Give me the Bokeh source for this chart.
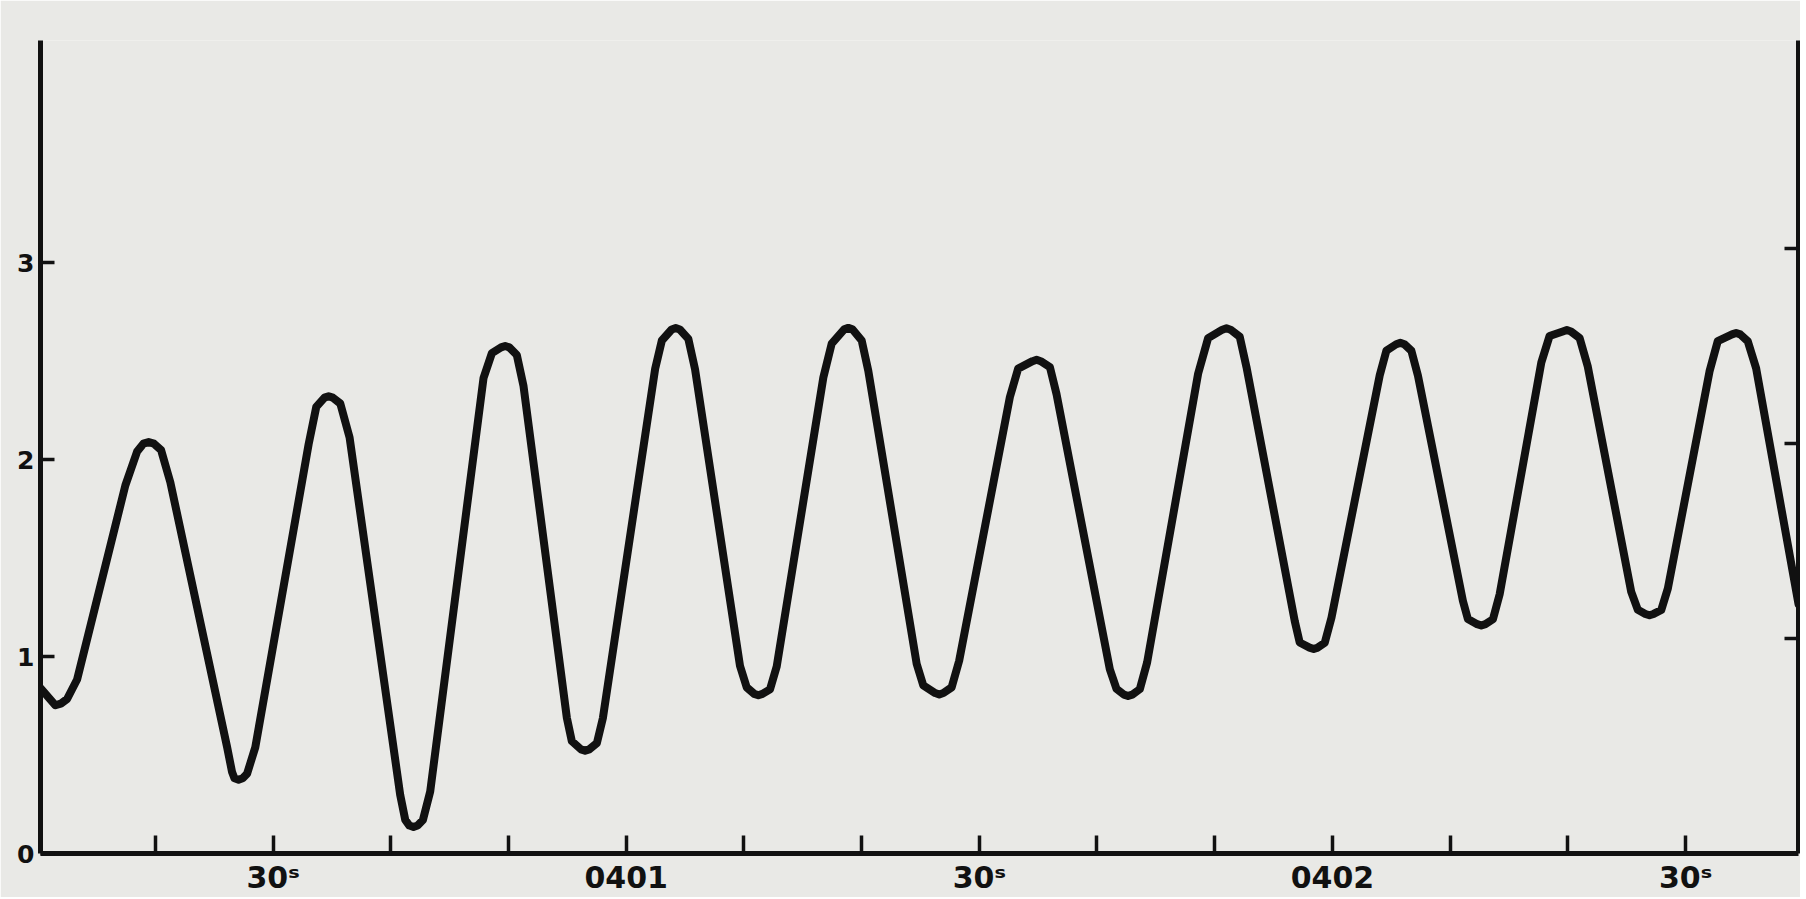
from bokeh.plotting import figure
from bokeh.models import LinearAxis, FixedTicker, Range1d, ColumnDataSource
from bokeh.embed import file_html
from bokeh.resources import INLINE

# time in seconds after 04:00:00
time_s = [10.24, 11.51, 11.96, 12.50, 13.35,
          17.45, 18.45, 18.98, 19.43, 19.88, 20.48, 21.27,
          26.09, 26.51, 26.72, 27.07, 27.42, 27.79, 28.49,
          33.02, 33.67, 34.37, 34.72, 35.07, 35.71, 36.50,
          40.80, 41.23, 41.58, 41.93, 42.28, 42.73, 43.35,
          47.88, 48.59, 49.37, 49.72, 50.07, 50.71, 51.27,
          54.96, 55.38, 56.16, 56.51, 56.86, 57.51, 58.02,
          62.46, 63.03, 63.86, 64.21, 64.56, 65.28, 65.85,
          69.67, 70.24, 70.88, 71.23, 71.58, 72.22, 72.79,
          76.75, 77.46, 78.52, 78.87, 79.22, 80.01, 80.57,
          84.68, 85.24, 86.25, 86.60, 86.95, 87.65, 88.29,
          92.60, 93.30, 94.52, 94.87, 95.22, 96.00, 96.56,
          101.09, 101.66, 102.29, 102.64, 102.99, 103.64, 104.26,
          108.59, 109.44, 110.65, 111.00, 111.35, 112.13, 112.70,
          116.80, 117.22, 118.06, 118.41, 118.76, 119.35, 119.92,
          124.02, 124.59, 125.42, 125.77, 126.12, 126.71, 127.27,
          131.09, 131.51, 132.30, 132.65, 133.00, 133.64, 134.21,
          137.75, 138.45, 139.57, 139.92, 140.27, 141.00, 141.70,
          145.39, 145.95, 146.59, 146.94, 147.29, 147.94, 148.50,
          152.04, 152.74, 153.95, 154.30, 154.65, 155.29, 156.00,
          159.60]
level = [0.840, 0.753, 0.761, 0.785, 0.884,
         1.870, 2.042, 2.082, 2.090, 2.082, 2.050, 1.886,
         0.542, 0.415, 0.382, 0.375, 0.382, 0.405, 0.540,
         2.079, 2.269, 2.316, 2.323, 2.316, 2.286, 2.113,
         0.298, 0.171, 0.142, 0.135, 0.142, 0.170, 0.315,
         2.416, 2.542, 2.571, 2.578, 2.571, 2.532, 2.377,
         0.689, 0.571, 0.529, 0.522, 0.529, 0.561, 0.688,
         2.462, 2.606, 2.662, 2.669, 2.662, 2.614, 2.460,
         0.953, 0.844, 0.811, 0.804, 0.811, 0.834, 0.951,
         2.418, 2.590, 2.663, 2.670, 2.663, 2.606, 2.452,
         0.963, 0.854, 0.815, 0.808, 0.815, 0.844, 0.979,
         2.319, 2.463, 2.501, 2.508, 2.501, 2.471, 2.334,
         0.936, 0.836, 0.807, 0.800, 0.807, 0.835, 0.971,
         2.437, 2.618, 2.661, 2.668, 2.661, 2.625, 2.471,
         1.181, 1.072, 1.046, 1.039, 1.046, 1.071, 1.198,
         2.429, 2.555, 2.587, 2.594, 2.587, 2.554, 2.427,
         1.283, 1.191, 1.165, 1.158, 1.165, 1.190, 1.317,
         2.494, 2.629, 2.652, 2.659, 2.652, 2.619, 2.473,
         1.329, 1.238, 1.217, 1.210, 1.217, 1.237, 1.346,
         2.449, 2.603, 2.637, 2.644, 2.637, 2.602, 2.465,
         1.267]

x_tick_values = [20, 30, 40, 50, 60, 70, 80, 90, 100, 110, 120, 130, 140, 150]
x_tick_labels = ["", "30ˢ", "", "", "0401", "", "", "30ˢ", "", "", "0402", "", "", "30ˢ"]
y_tick_values = [0, 1, 2, 3]
y_tick_labels = ["0", "1", "2", "3"]
right_tick_values = [1, 2, 3]

INK = "#111111"
PAPER = "#e9e9e6"

p = figure(width=1800, height=897, output_backend="svg", toolbar_location=None,
           x_axis_location=None, y_axis_location=None,
           x_range=Range1d(10.24, 159.6), y_range=Range1d(0, 4.13),
           min_border_left=40, min_border_right=2, min_border_top=40, min_border_bottom=43)
# the right-hand scale of the original sheet sits slightly higher (paper tilt)
p.extra_y_ranges = {"right": Range1d(-0.10, 4.064)}
p.background_fill_color = PAPER
p.border_fill_color = PAPER
p.outline_line_color = None
p.xgrid.visible = False
p.ygrid.visible = False

src = ColumnDataSource(dict(t=time_s, v=level))
p.line("t", "v", source=src, line_color=INK, line_width=8,
       line_join="round", line_cap="round")


def style(ax):
    ax.axis_line_color = INK
    ax.axis_line_width = 5
    ax.major_tick_line_color = INK
    ax.major_tick_line_width = 3.5
    ax.major_tick_out = 0
    ax.minor_tick_line_color = None
    ax.major_label_text_color = INK
    ax.major_label_text_font = "DejaVu Sans"
    ax.major_label_text_font_style = "bold"


xa = LinearAxis(ticker=FixedTicker(ticks=x_tick_values))
style(xa)
xa.major_tick_in = 18
xa.major_label_overrides = {float(k): s for k, s in zip(x_tick_values, x_tick_labels)}
xa.major_label_text_font_size = "30px"
xa.major_label_standoff = 6
p.add_layout(xa, "below")

ya = LinearAxis(ticker=FixedTicker(ticks=y_tick_values))
style(ya)
ya.major_tick_in = 14
ya.major_label_overrides = {float(k): s for k, s in zip(y_tick_values, y_tick_labels)}
ya.major_label_text_font_size = "25px"
ya.major_label_standoff = 6
ya.major_label_orientation = "horizontal"
p.add_layout(ya, "left")

ra = LinearAxis(ticker=FixedTicker(ticks=right_tick_values), y_range_name="right")
style(ra)
ra.major_tick_in = 14
ra.major_label_text_font_size = "0px"
ra.major_label_text_color = None
ra.major_label_standoff = 0
p.add_layout(ra, "right")

open("out.html", "w").write(file_html(p, INLINE))
